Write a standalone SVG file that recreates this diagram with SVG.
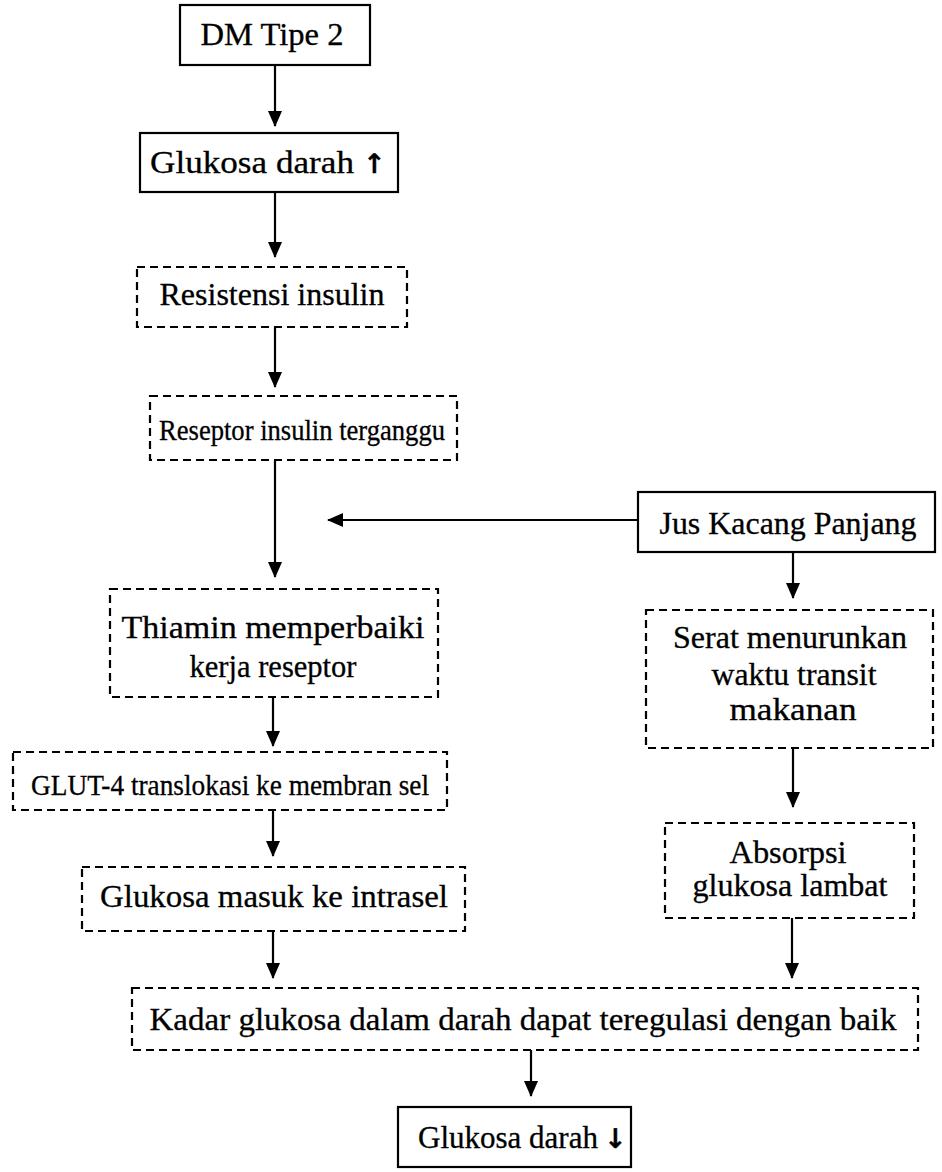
<svg xmlns="http://www.w3.org/2000/svg" width="942" height="1172" viewBox="0 0 942 1172">
<style>
.s{fill:#fff;stroke:#000;stroke-width:2.2}
.d{fill:#fff;stroke:#000;stroke-width:2.2;stroke-dasharray:8 5}
text{font-family:'Liberation Serif',serif;font-size:31px;fill:#000;text-anchor:middle;stroke:#000;stroke-width:0.3}
.st{text-anchor:start}
.sm{font-size:29px}
.ar{font-family:'DejaVu Sans',sans-serif;font-weight:bold;font-size:27px}
.c line{stroke:#000;stroke-width:2.2}
</style>
<defs>
<marker id="a" markerWidth="16" markerHeight="14" refX="15" refY="7" orient="auto" markerUnits="userSpaceOnUse" viewBox="0 0 16 14">
<path d="M0,0 L16,7 L0,14 Z" fill="#000"/>
</marker>
</defs>
<rect width="942" height="1172" fill="#fff"/>
<g class="c">
<line x1="275" y1="65" x2="275" y2="126" marker-end="url(#a)"/>
<line x1="275" y1="192" x2="275" y2="257" marker-end="url(#a)"/>
<line x1="275" y1="327" x2="275" y2="387" marker-end="url(#a)"/>
<line x1="275" y1="460" x2="275" y2="577" marker-end="url(#a)"/>
<line x1="638" y1="520" x2="328" y2="520" marker-end="url(#a)"/>
<line x1="793" y1="552" x2="793" y2="598" marker-end="url(#a)"/>
<line x1="273" y1="697" x2="273" y2="746" marker-end="url(#a)"/>
<line x1="273" y1="810" x2="273" y2="856" marker-end="url(#a)"/>
<line x1="793" y1="748" x2="793" y2="807" marker-end="url(#a)"/>
<line x1="273" y1="931" x2="273" y2="978" marker-end="url(#a)"/>
<line x1="792" y1="918" x2="792" y2="978" marker-end="url(#a)"/>
<line x1="531" y1="1050" x2="531" y2="1096" marker-end="url(#a)"/>
</g>
<g id="n1"><rect class="s" x="180" y="5" width="190" height="60"/><text x="272" y="45" textLength="143" lengthAdjust="spacingAndGlyphs">DM Tipe 2</text></g>
<g id="n2"><rect class="s" x="140" y="133" width="258" height="59"/><text class="st" x="150" y="173"><tspan textLength="204" lengthAdjust="spacingAndGlyphs">Glukosa darah</tspan><tspan class="ar" x="363">↑</tspan></text></g>
<g id="n3"><rect class="d" x="137" y="267" width="270" height="60"/><text x="272" y="305" textLength="225" lengthAdjust="spacingAndGlyphs">Resistensi insulin</text></g>
<g id="n4"><rect class="d" x="150" y="396" width="307" height="64"/><text class="sm" x="302" y="440" textLength="286" lengthAdjust="spacingAndGlyphs">Reseptor insulin terganggu</text></g>
<g id="n5"><rect class="s" x="638" y="492" width="297" height="60"/><text x="788" y="534" textLength="257" lengthAdjust="spacingAndGlyphs">Jus Kacang Panjang</text></g>
<g id="n6"><rect class="d" x="110" y="589" width="328" height="108"/><text x="273" y="638" textLength="303" lengthAdjust="spacingAndGlyphs">Thiamin memperbaiki</text><text x="273" y="677" textLength="167" lengthAdjust="spacingAndGlyphs">kerja reseptor</text></g>
<g id="n7"><rect class="d" x="646" y="610" width="287" height="138"/><text x="790" y="648" textLength="234" lengthAdjust="spacingAndGlyphs">Serat menurunkan</text><text x="794" y="685" textLength="165" lengthAdjust="spacingAndGlyphs">waktu transit</text><text x="793" y="720" textLength="127" lengthAdjust="spacingAndGlyphs">makanan</text></g>
<g id="n8"><rect class="d" x="13" y="752" width="434" height="58"/><text class="sm" x="230" y="795" textLength="398" lengthAdjust="spacingAndGlyphs">GLUT-4 translokasi ke membran sel</text></g>
<g id="n9"><rect class="d" x="665" y="823" width="249" height="95"/><text x="788" y="863" textLength="117" lengthAdjust="spacingAndGlyphs">Absorpsi</text><text x="790" y="896" textLength="195" lengthAdjust="spacingAndGlyphs">glukosa lambat</text></g>
<g id="n10"><rect class="d" x="82" y="867" width="383" height="64"/><text x="274" y="907" textLength="348" lengthAdjust="spacingAndGlyphs">Glukosa masuk ke intrasel</text></g>
<g id="n11"><rect class="d" x="132" y="988" width="786" height="62"/><text x="523" y="1030" textLength="747" lengthAdjust="spacingAndGlyphs">Kadar glukosa dalam darah dapat teregulasi dengan baik</text></g>
<g id="n12"><rect class="s" x="398" y="1107" width="233" height="60"/><text class="st" x="418" y="1148">Glukosa darah<tspan class="ar" x="604">↓</tspan></text></g>
</svg>
